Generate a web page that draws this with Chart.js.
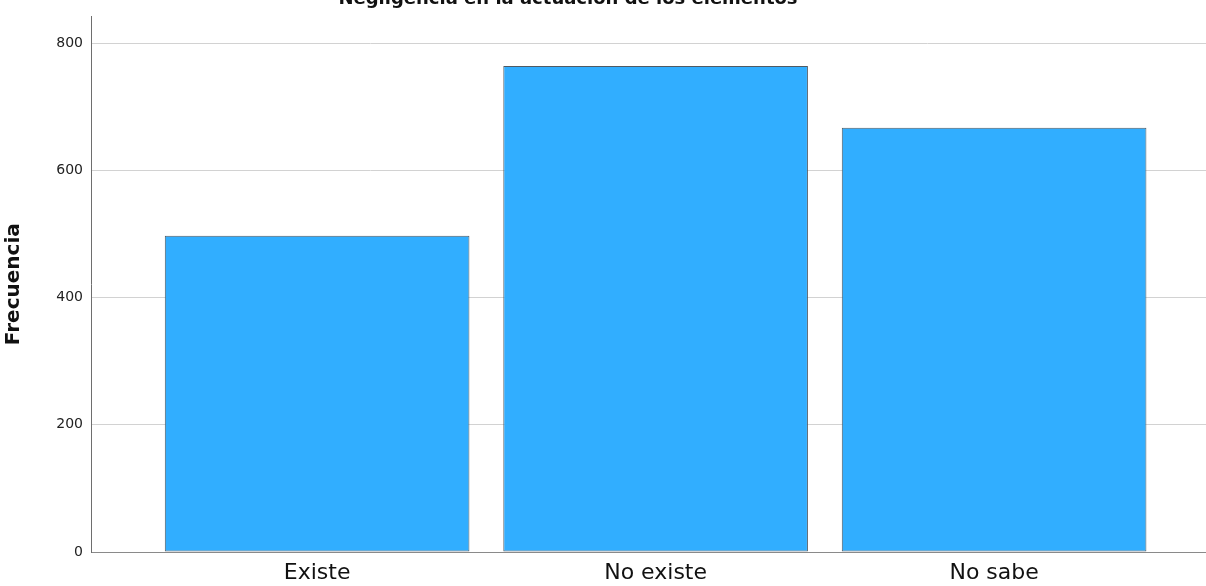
<!DOCTYPE html>
<html>
<head>
<meta charset="utf-8">
<script src="https://cdn.jsdelivr.net/npm/chart.js@4/dist/chart.umd.min.js"></script>
<style>
  html, body { margin: 0; padding: 0; background: #fff; }
  #wrap { position: relative; width: 1206px; height: 586px; }
</style>
</head>
<body>
<div id="wrap"><canvas id="myChart"></canvas></div>
<script>
const chartTitle = 'Negligencia en la actuación de los elementos';
const categories = ['Existe', 'No existe', 'No sabe'];
const frecuencia = [497, 764, 667];
const yTicks = [0, 200, 400, 600, 800];

// title sits half off the top edge, like the original export
const cutTitle = {
  id: 'cutTitle',
  afterDraw(chart) {
    const ctx = chart.ctx;
    ctx.save();
    ctx.font = 'bold 18px "DejaVu Sans"';
    ctx.fillStyle = '#111';
    ctx.textAlign = 'center';
    ctx.textBaseline = 'alphabetic';
    ctx.fillText(chartTitle, 568, 4);
    ctx.restore();
  }
};

const ctx = document.getElementById('myChart').getContext('2d');
const data = {
  datasets: [
    {
      label: 'Frecuencia',
      data: frecuencia.map((v, i) => ({ x: i, y: v })),
      backgroundColor: '#31aeff',
      borderColor: '#4f5a63',
      borderWidth: 1,
      borderSkipped: false,
      barPercentage: 0.9,
      categoryPercentage: 1,
    },
  ],
};

const config = {
  type: 'bar',
  data: data,
  plugins: [cutTitle],
  options: {
    responsive: true,
    maintainAspectRatio: false,
    animation: false,
    layout: { padding: { top: 15, left: 0, right: 0, bottom: 0 } },
    plugins: {
      legend: { display: false },
      tooltip: { enabled: false },
      title: { display: false },
    },
    scales: {
      x: {
        type: 'linear',
        offset: false,
        min: -0.668,
        max: 2.626,
        afterBuildTicks: (axis) => {
          axis.ticks = categories.map((c, i) => ({ value: i }));
        },
        afterFit: (axis) => { axis.height = 34; },
        grid: { drawOnChartArea: false, drawTicks: false },
        border: { display: true, color: '#8a8a8a', width: 1 },
        ticks: {
          padding: 8,
          color: '#111',
          font: { family: 'DejaVu Sans', size: 22 },
          callback: (v) => categories[v],
        },
      },
      y: {
        min: 0,
        max: 842,
        afterBuildTicks: (axis) => {
          axis.ticks = yTicks.map((v) => ({ value: v }));
        },
        afterFit: (axis) => { axis.width = 91; },
        grid: { color: '#d2d2d2', lineWidth: 1, drawTicks: false },
        border: { display: true, color: '#6e6e6e', width: 1 },
        ticks: {
          padding: 8,
          color: '#222',
          font: { family: 'DejaVu Sans', size: 14 },
        },
        title: {
          display: true,
          text: 'Frecuencia',
          color: '#111',
          font: { family: 'DejaVu Sans', size: 20, weight: 'bold' },
          padding: { top: 2, bottom: 0 },
        },
      },
    },
  },
};

new Chart(ctx, config);
</script>
</body>
</html>
